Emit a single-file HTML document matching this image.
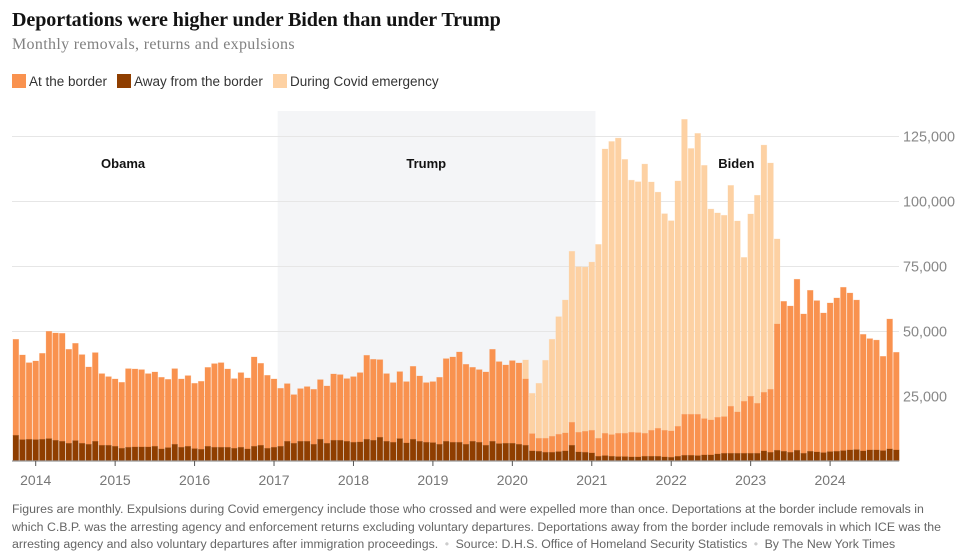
<!DOCTYPE html>
<html lang="en">
<head>
<meta charset="utf-8">
<title>Deportations were higher under Biden than under Trump</title>
<style>
html,body{margin:0;padding:0;background:#fff;width:971px;height:559px;overflow:hidden}
#wrap{position:relative;width:971px;height:559px}
#wrap>*{position:absolute}
.title{left:12px;top:7px;font:bold 20.1px/26px "Liberation Serif",serif;color:#121212;white-space:nowrap;letter-spacing:-.1px}
.sub{left:12px;top:35px;font:16px/19px "Liberation Serif",serif;color:#808080;white-space:nowrap;letter-spacing:.33px}
.leg{top:73px;height:16px;font:13.5px/17px "Liberation Sans",sans-serif;color:#333;white-space:nowrap}
.leg i{position:absolute;left:0;top:1px;width:14px;height:14px}
.leg span{position:absolute;left:17px;top:0}
.note{left:12px;top:501px;width:950px;font:12.33px/17.6px "Liberation Sans",sans-serif;color:#666}
.note div{white-space:nowrap}
.note b{font-weight:400;color:#ccc;padding:0 6.5px}
svg{left:0;top:0}
svg text{font-family:"Liberation Sans",sans-serif}
</style>
</head>
<body>
<div id="wrap">
<div class="title">Deportations were higher under Biden than under Trump</div>
<div class="sub">Monthly removals, returns and expulsions</div>
<div class="leg" style="left:12px"><i style="background:#f9924f"></i><span>At the border</span></div>
<div class="leg" style="left:117px"><i style="background:#8f3e00"></i><span>Away from the border</span></div>
<div class="leg" style="left:273px"><i style="background:#fdd1a3"></i><span>During Covid emergency</span></div>
<svg id="chart" width="971" height="559" viewBox="0 0 971 559"></svg>
<div class="note">
<div>Figures are monthly. Expulsions during Covid emergency include those who crossed and were expelled more than once. Deportations at the border include removals in</div>
<div>which C.B.P. was the arresting agency and enforcement returns excluding voluntary departures. Deportations away from the border include removals in which ICE was the</div>
<div>arresting agency and also voluntary departures after immigration proceedings.<b>•</b>Source: D.H.S. Office of Homeland Security Statistics<b>•</b>By The New York Times</div>
</div>
</div>
<script>
// Monthly series, Oct 2013 – Nov 2024
const awayValues = [9870,8200,8330,8200,8330,8590,7950,7560,6800,7820,6800,6410,7560,6030,6030,5640,4870,5260,5380,5380,5380,5640,4620,5130,6410,5260,5640,4740,4490,5640,5260,5260,5260,4870,5260,4620,5640,6030,4870,5260,5640,7560,6800,7560,7560,6410,8330,6800,7950,7950,7560,7180,7300,8330,7950,9100,7560,7180,8590,6920,8330,7560,7180,7050,6410,7560,7180,7180,6410,7560,7180,6030,7560,6670,6800,6800,6410,6030,3850,3720,3330,3330,3590,3850,6030,3460,3330,3080,1800,2050,1800,1670,1670,1540,1540,1800,1800,1800,1540,1410,1800,2180,2180,2050,2310,2310,2690,2950,2950,2950,2950,2950,2950,3850,3330,4100,3720,3330,4100,2950,3720,3460,3200,3590,3720,3970,4230,4360,3850,4230,4230,3970,4620,4230];
const borderValues = [36930,32570,29470,30260,33070,41280,41280,41540,36150,37430,34100,29740,34110,27560,26400,25900,25380,30240,30000,29750,28210,28590,27560,26270,29090,26280,27180,25130,26150,30360,32170,32540,30120,26790,28710,27300,34360,31530,28080,26280,22310,22180,18710,20260,21030,21150,22950,22050,25510,25250,24110,25250,26670,32310,31150,29870,26030,22950,25770,23590,28070,25130,22950,23460,25770,31800,32820,34740,30770,28460,27950,28200,35390,31530,30120,31790,31280,25510,6660,5000,5390,6160,6670,6920,8840,7570,8080,8710,6920,8590,8330,8970,8970,9490,9360,8840,9990,10760,10250,10130,11530,15770,15770,15900,13970,13460,14100,14100,18080,15900,20000,21920,19230,22560,24230,48590,57680,56270,65800,53590,61920,58210,53720,57180,58980,62830,60370,57540,44850,42820,42270,36280,49980,37570];
const covidValues = [0,0,0,0,0,0,0,0,0,0,0,0,0,0,0,0,0,0,0,0,0,0,0,0,0,0,0,0,0,0,0,0,0,0,0,0,0,0,0,0,0,0,0,0,0,0,0,0,0,0,0,0,0,0,0,0,0,0,0,0,0,0,0,0,0,0,0,0,0,0,0,0,0,0,0,0,0,7310,15510,21150,30000,37310,45240,51130,65770,63670,63190,64710,74580,109360,112770,113560,105360,96970,96500,103560,95510,90840,83310,80860,94370,113450,102250,108050,97420,81130,78610,77450,84970,73450,55350,70130,80020,95090,87040,32710,0,0,0,0,0,0,0,0,0,0,0,0,0,0,0,0,0,0];
const yTickValues = [25000,50000,75000,100000,125000];
const yearLabels = [2014,2015,2016,2017,2018,2019,2020,2021,2022,2023,2024];
const periodNames = ["Obama","Trump","Biden"];
const firstMonth = 2013 * 12 + 9; // October 2013
const trumpStart = 2017 * 12 + 0.55;
const trumpEnd = 2021 * 12 + 0.55;
const periodCenters = [2015 * 12 + 1.2, 2019 * 12 - 1.01, 2022 * 12 + 9.84];

const NS = "http://www.w3.org/2000/svg";
const svg = document.getElementById("chart");
const xOf = m => 35.7 + (m - 2014 * 12) * 6.62;
const yOf = v => 461 - v * 65 / 25000;
function make(tag, attrs, parent) {
  const el = document.createElementNS(NS, tag);
  for (const k in attrs) el.setAttribute(k, attrs[k]);
  (parent || svg).appendChild(el);
  return el;
}

const shade = make("rect", {x: xOf(trumpStart), y: 111, width: xOf(trumpEnd) - xOf(trumpStart), height: 350, fill: "#f4f5f7"});



yTickValues.forEach(v => {
  const line = make("line", {x1: 12, x2: 899, y1: yOf(v) + .5, y2: yOf(v) + .5, stroke: "#e6e6e6", "stroke-width": 1});
  
  
  const label = make("text", {x: 903, y: yOf(v) + 5.5, "text-anchor": "start", "font-size": 14.4, fill: "#888"});
  label.textContent = v.toLocaleString("en-US");
  
  
});

const barW = 5.7;
const edgeStyle = {"stroke-width": .7, "stroke-opacity": .35};
awayValues.forEach((a, i) => {
  const cx = xOf(firstMonth + i);
  const b = borderValues[i], c = covidValues[i];
  if (c > 0) {
    const barCovid = make("rect", {x: cx - barW / 2, y: yOf(a + b + c), width: barW, height: yOf(a + b) - yOf(a + b + c), fill: "#fdd1a3", stroke: "#fdd1a3", ...edgeStyle});
    
    
  }
  const barBorder = make("rect", {x: cx - barW / 2, y: yOf(a + b), width: barW, height: yOf(a) - yOf(a + b), fill: "#f9924f", stroke: "#f9924f", ...edgeStyle});
  
  
  const barAway = make("rect", {x: cx - barW / 2, y: yOf(a), width: barW, height: yOf(0) - yOf(a), fill: "#8f3e00", stroke: "#8f3e00", ...edgeStyle});
  
  
});

const axisCover = make("rect", {x: 0, y: 461.5, width: 971, height: 4, fill: "#fff"});



const axis = make("line", {x1: 12, x2: 899, y1: 461, y2: 461, stroke: "#999", "stroke-width": 1.2});



yearLabels.forEach(y => {
  const x = xOf(y * 12);
  const tick = make("line", {x1: x, x2: x, y1: 461, y2: 466, stroke: "#555", "stroke-width": 1});
  
  
  const label = make("text", {x: x, y: 485, "text-anchor": "middle", "font-size": 14, fill: "#777"});
  label.textContent = y;
  
  
});

periodNames.forEach((name, i) => {
  const label = make("text", {x: xOf(periodCenters[i]), y: 168, "text-anchor": "middle", "font-size": 13, "font-weight": "bold", fill: "#121212"});
  label.textContent = name;
  
  
});
</script>
</body>
</html>
